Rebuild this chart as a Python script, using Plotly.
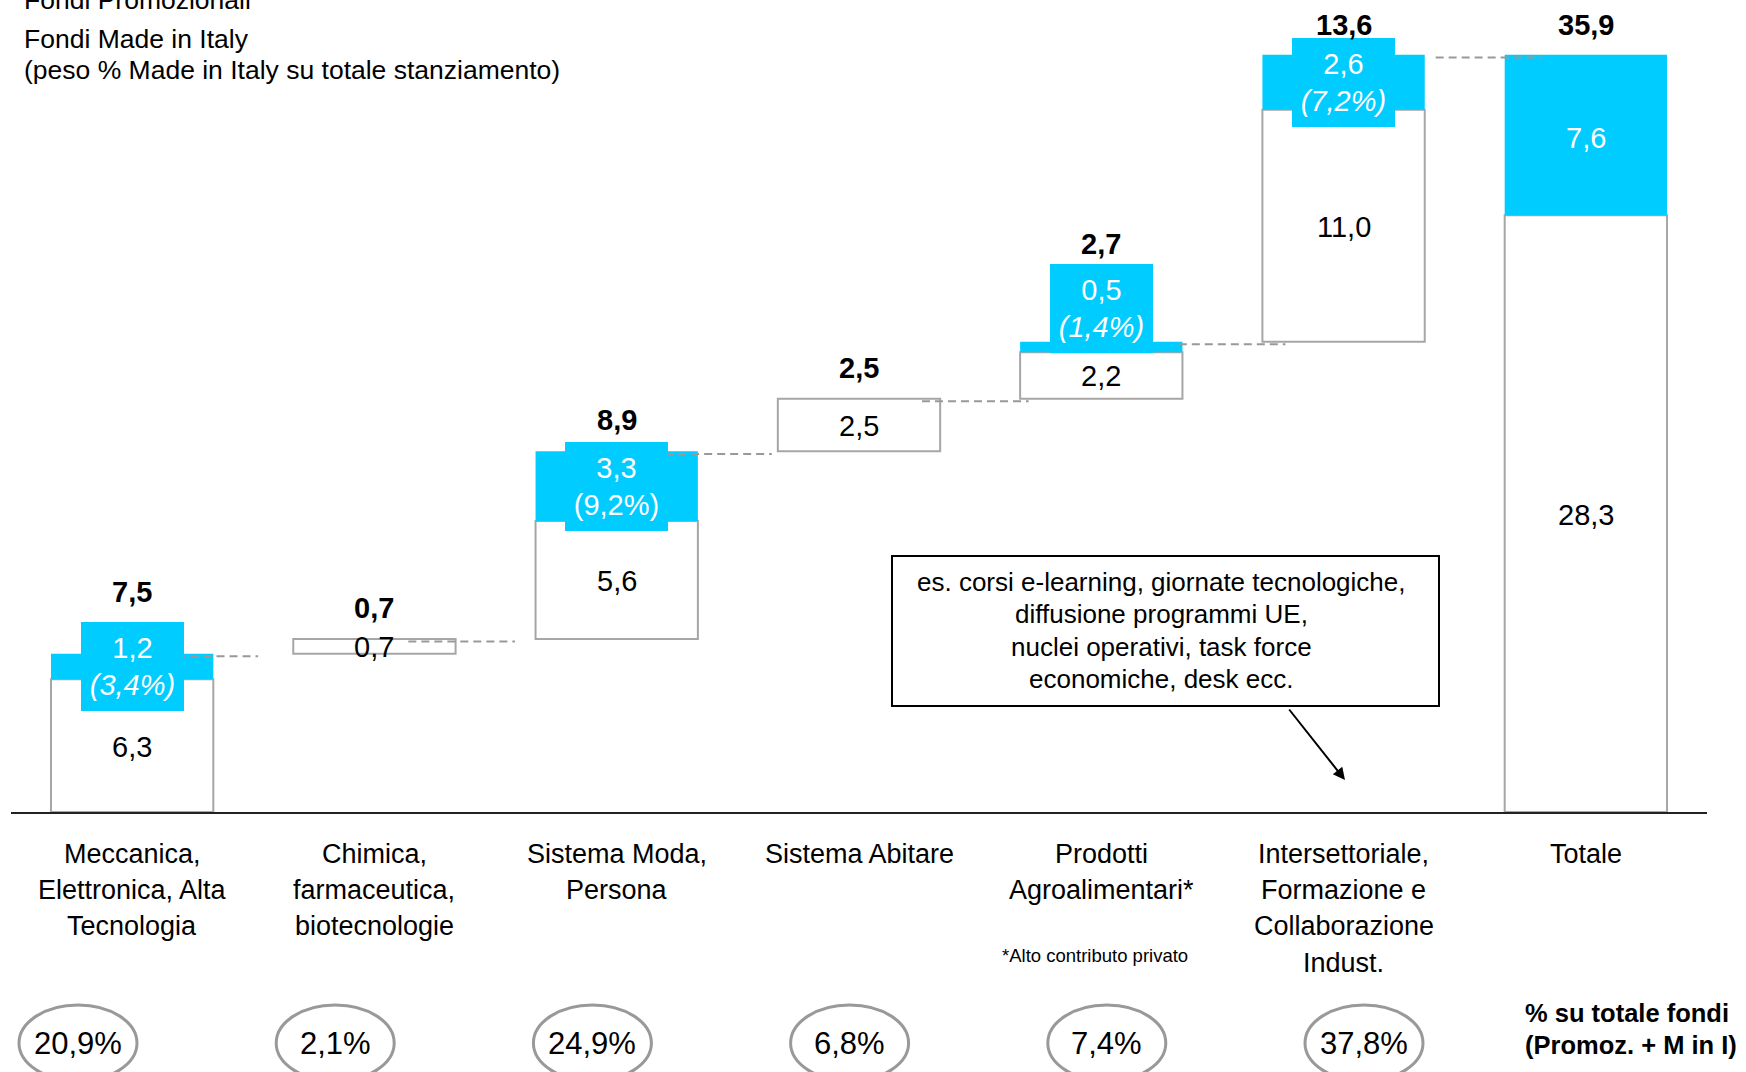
import plotly.graph_objects as go

# ---- data (milioni di euro) ----
categories = [
    "Meccanica,<br>Elettronica, Alta<br>Tecnologia",
    "Chimica,<br>farmaceutica,<br>biotecnologie",
    "Sistema Moda,<br>Persona",
    "Sistema Abitare",
    "Prodotti<br>Agroalimentari*",
    "Intersettoriale,<br>Formazione e<br>Collaborazione<br>Indust.",
    "Totale",
]
fondi_promozionali = [6.3, 0.7, 5.6, 2.5, 2.2, 11.0, 28.3]
fondi_made_in_italy = [1.2, 0.0, 3.3, 0.0, 0.5, 2.6, 7.6]
peso_mii = [3.4, None, 9.2, None, 1.4, 7.2, None]          # % Made in Italy su totale stanziamento
quota_totale = [20.9, 2.1, 24.9, 6.8, 7.4, 37.8]            # % su totale fondi
nota_box = ["es. corsi e-learning, giornate tecnologiche,",
            "diffusione programmi UE,",
            "nuclei operativi, task force",
            "economiche, desk ecc."]

# ---- styling ----
FONT = "Liberation Sans, Arial, sans-serif"
BLUE = "#00CCFF"
GREY = "#A6A6A6"
W, H = 1746, 1072
ML, MR, MT, MB = 11, 39, 0, 260
PW, PH = W - ML - MR, H - MT - MB
PX_PER_UNIT = 21.09
italic_pct = [True, False, False, False, True, True, False]
total_lift = [62, 31, 31, 31, 98, 30, 30]   # px above the bar top for the bold totals
box_lift = [0, 0, 0, 0, 38, 0, 0]           # px shift of the blue label boxes


def fmt(v):
    return f"{v:.1f}".replace(".", ",")


def px_x(px):
    return (px - ML) / PW


def px_y(py):
    return (MT + PH - py) / PH


n = len(categories)
xs = list(range(n))
totals = [a + b for a, b in zip(fondi_promozionali, fondi_made_in_italy)]
starts = []
acc = 0.0
for i in range(n):
    if i == n - 1:
        starts.append(0.0)
    else:
        starts.append(acc)
        acc += totals[i]
tops = [s + t for s, t in zip(starts, totals)]

fig = go.Figure()

# promotional funds (white boxes)
fig.add_trace(go.Bar(
    x=xs, y=fondi_promozionali, base=starts, width=0.67,
    marker=dict(color="white", line=dict(color=GREY, width=2)),
    hoverinfo="skip", showlegend=False,
))
# Made in Italy funds (cyan)
fig.add_trace(go.Bar(
    x=xs, y=fondi_made_in_italy,
    base=[s + p for s, p in zip(starts, fondi_promozionali)], width=0.67,
    marker=dict(color=BLUE, line=dict(width=0)),
    hoverinfo="skip", showlegend=False,
))

# dashed connectors between consecutive steps
cx, cy = [], []
for i in range(n - 1):
    cx += [i + 0.08 + 0.06 * i, i + 0.52 + 0.06 * i, None]
    cy += [tops[i] - 0.12, tops[i] - 0.12, None]
fig.add_trace(go.Scatter(
    x=cx, y=cy, mode="lines",
    line=dict(color="#999999", width=2, dash="8px,5px"),
    hoverinfo="skip", showlegend=False,
))

annotations = []
shapes = []

# values of the white boxes
for i, v in enumerate(fondi_promozionali):
    annotations.append(dict(
        x=i, y=starts[i] + v / 2, xref="x", yref="y", xanchor="center", yanchor="middle",
        yshift=-1, text=fmt(v), showarrow=False,
        font=dict(family=FONT, size=29, color="black"),
    ))

# labels of the cyan segments
for i in range(n):
    m = fondi_made_in_italy[i]
    if m <= 0:
        continue
    yc = starts[i] + fondi_promozionali[i] + m / 2
    if peso_mii[i] is None:
        annotations.append(dict(
            x=i, y=yc, xref="x", yref="y", xanchor="center", yanchor="middle", yshift=-3,
            text=fmt(m), showarrow=False,
            font=dict(family=FONT, size=29, color="white"),
        ))
        continue
    pct = f"({fmt(peso_mii[i])}%)"
    if italic_pct[i]:
        pct = f"<i>{pct}</i>"
    annotations.append(dict(
        x=i, y=yc, xref="x", yref="y", xanchor="center", yanchor="middle", yshift=box_lift[i],
        text=f"{fmt(m)}<br>{pct}", showarrow=False,
        font=dict(family=FONT, size=29, color="white"),
        bgcolor=BLUE, borderwidth=0, borderpad=0, width=103, height=89,
    ))

# bold totals
for i in range(n):
    annotations.append(dict(
        x=i, y=tops[i], xref="x", yref="y", xanchor="center", yanchor="middle",
        yshift=total_lift[i], text=f"<b>{fmt(totals[i])}</b>", showarrow=False,
        font=dict(family=FONT, size=29, color="black"),
    ))

# category labels, one line at a time
for i, c in enumerate(categories):
    for j, part in enumerate(c.split("<br>")):
        annotations.append(dict(
            x=i, y=0, xref="x", yref="y", xanchor="center", yanchor="middle",
            yshift=-(42 + 36.2 * j), text=part, showarrow=False,
            font=dict(family=FONT, size=27, color="black"),
        ))
annotations.append(dict(
    x=px_x(1095), y=px_y(955), xref="paper", yref="paper", xanchor="center", yanchor="middle",
    text="*Alto contributo privato", showarrow=False,
    font=dict(family=FONT, size=18.5, color="black"),
))

# share of total funds, in ellipses
for k, q in enumerate(quota_totale):
    cxp = 78 + 257.2 * k
    cyp = 1043
    shapes.append(dict(
        type="circle", xref="paper", yref="paper",
        x0=px_x(cxp - 59), x1=px_x(cxp + 59), y0=px_y(cyp + 38), y1=px_y(cyp - 38),
        line=dict(color="#999999", width=3), fillcolor="rgba(0,0,0,0)",
    ))
    annotations.append(dict(
        x=px_x(cxp), y=px_y(cyp), xref="paper", yref="paper",
        xanchor="center", yanchor="middle",
        text=f"{fmt(q)}%", showarrow=False,
        font=dict(family=FONT, size=31, color="black"),
    ))
for py, t in [(1013, "<b>% su totale fondi</b>"), (1045, "<b>(Promoz. + M in I)</b>")]:
    annotations.append(dict(
        x=px_x(1523), y=px_y(py), xref="paper", yref="paper",
        xanchor="left", yanchor="middle",
        text=t, showarrow=False,
        font=dict(family=FONT, size=25.5, color="black"),
    ))

# header lines
for py, t in [(0, "Fondi Promozionali"), (39, "Fondi Made in Italy"),
              (70, "(peso % Made in Italy su totale stanziamento)")]:
    annotations.append(dict(
        x=px_x(22), y=px_y(py), xref="paper", yref="paper",
        xanchor="left", yanchor="middle", text=t, showarrow=False,
        font=dict(family=FONT, size=26.5, color="black"),
    ))

# note box with arrow
shapes.append(dict(
    type="rect", xref="paper", yref="paper",
    x0=px_x(892), x1=px_x(1439), y0=px_y(706), y1=px_y(556),
    line=dict(color="black", width=2), fillcolor="white", layer="above",
))
for j, line in enumerate(nota_box):
    annotations.append(dict(
        x=px_x(1161), y=px_y(582 + 32.3 * j), xref="paper", yref="paper",
        xanchor="center", yanchor="middle",
        text=line, showarrow=False,
        font=dict(family=FONT, size=26, color="black"),
    ))
annotations.append(dict(
    x=px_x(1345), y=px_y(780), xref="paper", yref="paper", text="",
    showarrow=True, ax=-57, ay=-72, arrowhead=2, arrowsize=1.2,
    arrowwidth=2, arrowcolor="black",
))

fig.update_layout(
    width=W, height=H,
    margin=dict(l=ML, r=MR, t=MT, b=MB),
    paper_bgcolor="white", plot_bgcolor="white",
    barmode="overlay", showlegend=False, hovermode=False,
    font=dict(family=FONT, color="black"),
    xaxis=dict(range=[-0.5, n - 0.5], showline=True, linecolor="#222222", linewidth=2,
               showgrid=False, zeroline=False, showticklabels=False, ticks=""),
    yaxis=dict(range=[0, PH / PX_PER_UNIT], showgrid=False, zeroline=False,
               showticklabels=False, showline=False, ticks=""),
    annotations=annotations, shapes=shapes,
)

fig.write_html("out.html")
